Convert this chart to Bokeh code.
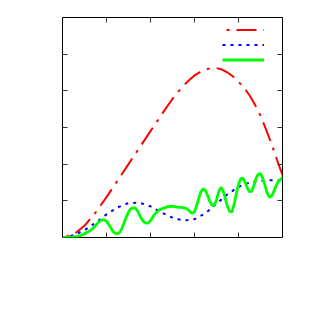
from bokeh.plotting import figure
from bokeh.models import LinearAxis, FixedTicker, Legend, LegendItem, Range1d
from bokeh.core.properties import value
from bokeh.embed import file_html
from bokeh.resources import INLINE

# ---- data ----
x_ticks = [1, 2, 3, 4]
y_ticks = [1, 2, 3, 4, 5]

x_red = [0, 0.25, 0.5, 0.75, 1.0, 1.25, 1.5, 1.75, 2.0, 2.25, 2.5, 2.625, 2.75,
         2.875, 3.0, 3.125, 3.25, 3.375, 3.5, 3.625, 3.75, 3.875, 4.0, 4.125,
         4.25, 4.375, 4.5, 4.625, 4.75, 4.875, 5.0]
y_red = [0, 0.08, 0.32, 0.68, 1.1, 1.55, 2.0, 2.45, 2.9, 3.35, 3.78, 3.97, 4.14,
         4.29, 4.42, 4.51, 4.58, 4.615, 4.62, 4.58, 4.5, 4.39, 4.25, 4.08,
         3.88, 3.62, 3.32, 2.95, 2.55, 2.12, 1.7]

x_blue = [0, 0.25, 0.5, 0.75, 1.0, 1.25, 1.5, 1.75, 2.0, 2.25, 2.5, 2.75, 3.0,
          3.25, 3.5, 3.75, 4.0, 4.25, 4.5, 4.75, 5.0]
y_blue = [0, 0.06, 0.2, 0.4, 0.63, 0.82, 0.94, 0.95, 0.85, 0.68, 0.54, 0.46, 0.5,
          0.66, 0.92, 1.18, 1.38, 1.5, 1.55, 1.56, 1.55]

x_green = [0.0, 0.1, 0.2, 0.3, 0.4, 0.5, 0.6, 0.65, 0.7, 0.75, 0.8, 0.85, 0.9, 0.95,
           1.0, 1.05, 1.1, 1.15, 1.2, 1.25, 1.3, 1.35, 1.4, 1.45, 1.5, 1.55, 1.6,
           1.65, 1.7, 1.75, 1.8, 1.85, 1.9, 1.95, 2.0, 2.05, 2.1, 2.15, 2.2, 2.25,
           2.3, 2.35, 2.4, 2.45, 2.5, 2.55, 2.6, 2.65, 2.7, 2.75, 2.8, 2.85, 2.9,
           2.95, 3.0, 3.05, 3.1, 3.15, 3.2, 3.25, 3.3, 3.35, 3.4, 3.45, 3.5, 3.55,
           3.6, 3.65, 3.7, 3.75, 3.8, 3.85, 3.9, 3.95, 4.0, 4.05, 4.1, 4.15, 4.2,
           4.25, 4.3, 4.35, 4.4, 4.45, 4.5, 4.55, 4.6, 4.65, 4.7, 4.75, 4.8, 4.85,
           4.9, 4.95, 5.0]
y_green = [0.0, 0.0, 0.01, 0.02, 0.05, 0.10, 0.17, 0.21, 0.26, 0.32, 0.39, 0.45, 0.48, 0.48,
           0.44, 0.36, 0.26, 0.16, 0.11, 0.10, 0.14, 0.25, 0.40, 0.56, 0.69, 0.78, 0.81,
           0.81, 0.74, 0.62, 0.50, 0.42, 0.39, 0.40, 0.46, 0.55, 0.64, 0.70, 0.75, 0.78,
           0.80, 0.82, 0.84, 0.85, 0.85, 0.84, 0.83, 0.82, 0.82, 0.81, 0.80, 0.76, 0.70,
           0.66, 0.70, 0.88, 1.08, 1.26, 1.33, 1.28, 1.14, 0.98, 0.88, 0.88, 1.02, 1.25,
           1.37, 1.28, 1.06, 0.84, 0.71, 0.70, 0.90, 1.20, 1.45, 1.60, 1.62, 1.50, 1.35,
           1.25, 1.26, 1.42, 1.62, 1.73, 1.74, 1.62, 1.43, 1.22, 1.10, 1.12, 1.25, 1.40,
           1.52, 1.58, 1.64]

p = figure(frame_width=220, frame_height=220,
           x_range=Range1d(0, 5), y_range=Range1d(0, 6),
           output_backend="svg", toolbar_location=None,
           min_border_left=62, min_border_top=17,
           min_border_right=20, min_border_bottom=60)
p.background_fill_color = "white"
p.border_fill_color = "white"
p.outline_line_color = "black"
p.outline_line_width = 1
p.grid.visible = False

p.add_layout(LinearAxis(), "above")
p.add_layout(LinearAxis(), "right")


def style(ax, ticks):
    ax.ticker = FixedTicker(ticks=ticks)
    ax.major_tick_in = 5
    ax.major_tick_out = 0
    ax.major_tick_line_color = "#333333"
    ax.major_tick_line_width = 1
    ax.minor_tick_line_color = None
    ax.axis_line_color = None
    ax.major_label_overrides = {t: "" for t in ticks}
    ax.major_label_standoff = 0


for ax in p.below + p.above:
    style(ax, x_ticks)
for ax in p.left + p.right:
    style(ax, y_ticks)

r_red = p.line(x_red, y_red, line_color="#ff0000", line_width=2,
               line_dash="20 7 3 7", line_dash_offset=23)
r_blue = p.line(x_blue, y_blue, line_color="#0000ff", line_width=2,
                line_dash="3 5")
r_green = p.line(x_green, y_green, line_color="#00ff00", line_width=2.8)

legend = Legend(items=[LegendItem(label=value(""), renderers=[r_red]),
                       LegendItem(label=value(""), renderers=[r_blue]),
                       LegendItem(label=value(""), renderers=[r_green])],
                location=(160, 170), glyph_width=42, glyph_height=15,
                label_width=0, label_standoff=0, spacing=0, padding=0,
                margin=0, border_line_color=None, background_fill_alpha=0)
p.add_layout(legend, "center")

open("out.html", "w").write(file_html(p, INLINE))
